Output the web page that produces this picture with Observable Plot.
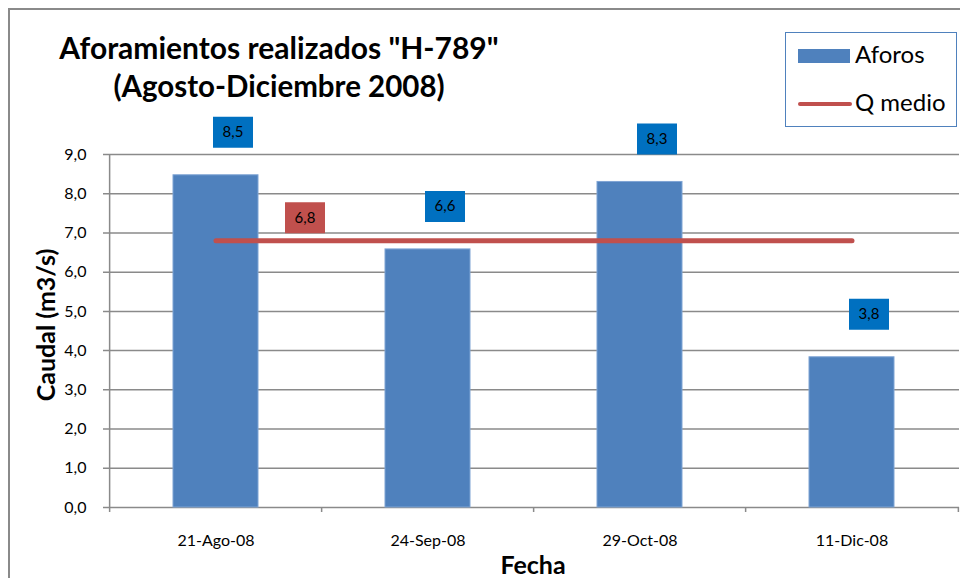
<!DOCTYPE html>
<html>
<head>
<meta charset="utf-8">
<script src="https://cdn.jsdelivr.net/npm/d3@7"></script>
<script src="https://cdn.jsdelivr.net/npm/@observablehq/plot@0.6"></script>
<style>
  html, body { margin: 0; padding: 0; background: #fff; overflow: hidden; }
  #wrap { position: relative; width: 960px; height: 578px; overflow: hidden; font-family: Lato, "Open Sans", sans-serif; }
  #border { position: absolute; left: 8px; top: 8px; width: 2000px; height: 2000px; border-left: 2px solid #8a8a8a; border-top: 2px solid #8a8a8a; }
  #plot { position: absolute; left: 0; top: 0; }
  .title { position: absolute; left: 279px; transform: translateX(-50%); white-space: nowrap; font-weight: 700; color: #000; line-height: 1.2; }
  #legend { position: absolute; left: 785px; top: 32px; width: 170px; height: 93px; border: 1.5px solid #4f81bd; }
  .lg { position: absolute; left: 69px; font-size: 24px; color: #000; white-space: nowrap; }
  #ytitle { position: absolute; left: 45px; top: 325px; transform: translate(-50%, -50%) rotate(-90deg); font-weight: 700; font-size: 25px; white-space: nowrap; }
  #xtitle { position: absolute; left: 533px; top: 564px; transform: translate(-50%, -50%); font-weight: 700; font-size: 25px; white-space: nowrap; }
</style>
</head>
<body>
<div id="wrap">
  <div id="border"></div>
  <div id="plot"></div>
  <div class="title" style="top:29px;font-size:30px">Aforamientos realizados "H-789"</div>
  <div class="title" style="top:68px;font-size:29.5px">(Agosto-Diciembre 2008)</div>
  <div id="legend">
    <div style="position:absolute;left:12px;top:16px;width:52px;height:14px;background:#4f81bd"></div>
    <div class="lg" style="top:6px">Aforos</div>
    <div style="position:absolute;left:12px;top:69px;width:54px;height:4px;border-radius:2px;background:#c0504d"></div>
    <div class="lg" style="top:54px">Q medio</div>
  </div>
  <div id="ytitle">Caudal (m3/s)</div>
  <div id="xtitle">Fecha</div>
</div>
<script>
const fechas = ["21-Ago-08", "24-Sep-08", "29-Oct-08", "11-Dic-08"];
const aforos = [8.47, 6.58, 8.30, 3.83];
const qMedio = [6.8, 6.8, 6.8, 6.8];
const yTicks = [0, 1, 2, 3, 4, 5, 6, 7, 8, 9];

const data = fechas.map((f, i) => ({fecha: f, aforo: aforos[i], q: qMedio[i]}));
const fmt = v => v.toFixed(1).replace(".", ",");
const boxSymbol = { draw(ctx) { ctx.rect(-20, -15.5, 40, 31); } };
const half = (959 - 108) / fechas.length / 2;

const chart = Plot.plot({
  width: 960,
  height: 578,
  marginLeft: 108,
  marginRight: 1,
  marginTop: 154,
  marginBottom: 71,
  style: { fontFamily: "Lato, 'Open Sans', sans-serif", fontSize: "16px", color: "#000", background: "transparent" },
  x: { type: "band", domain: fechas, paddingInner: 0.6, paddingOuter: 0.3, label: null },
  y: { domain: [0, 9], label: null },
  marks: [
    Plot.ruleY(yTicks, { stroke: "#8a8a8a", strokeWidth: 1.5, insetLeft: -5 }),
    Plot.ruleX([fechas[0]], { y1: 0, y2: 9, dx: -half, stroke: "#8a8a8a", strokeWidth: 1.5 }),
    Plot.ruleX(fechas, { x: d => d, y1: 0, y2: 0, insetBottom: -5, dx: -half, stroke: "#8a8a8a", strokeWidth: 1.5 }),
    Plot.ruleX([fechas[fechas.length - 1]], { y1: 0, y2: 0, insetBottom: -5, dx: half, stroke: "#8a8a8a", strokeWidth: 1.5 }),
    Plot.barY(data, { x: "fecha", y: "aforo", fill: "#4f81bd", stroke: "#7fa4d4", strokeWidth: 1 }),
    Plot.lineY(data, { x: "fecha", y: "q", stroke: "#c0504d", strokeWidth: 5, strokeLinecap: "round" }),
    Plot.dot(data, { x: "fecha", y: "aforo", symbol: boxSymbol, fill: "#0070c0", stroke: "none", dx: 17, dy: -43 }),
    Plot.text(data, { x: "fecha", y: "aforo", text: d => fmt(d.aforo), dx: 17, dy: -43, fill: "#000", fontSize: 15 }),
    Plot.dot([data[0]], { x: "fecha", y: "q", symbol: boxSymbol, fill: "#c0504d", stroke: "none", dx: 89, dy: -23 }),
    Plot.text([data[0]], { x: "fecha", y: "q", text: d => fmt(d.q), dx: 89, dy: -23, fill: "#000", fontSize: 15 }),
    Plot.axisY({ ticks: yTicks, tickSize: 0, tickPadding: 22, tickFormat: fmt, fontSize: 16 }),
    Plot.axisX({ tickSize: 0, tickPadding: 27, fontSize: 16 })
  ]
});
document.getElementById("plot").appendChild(chart);
</script>
</body>
</html>
